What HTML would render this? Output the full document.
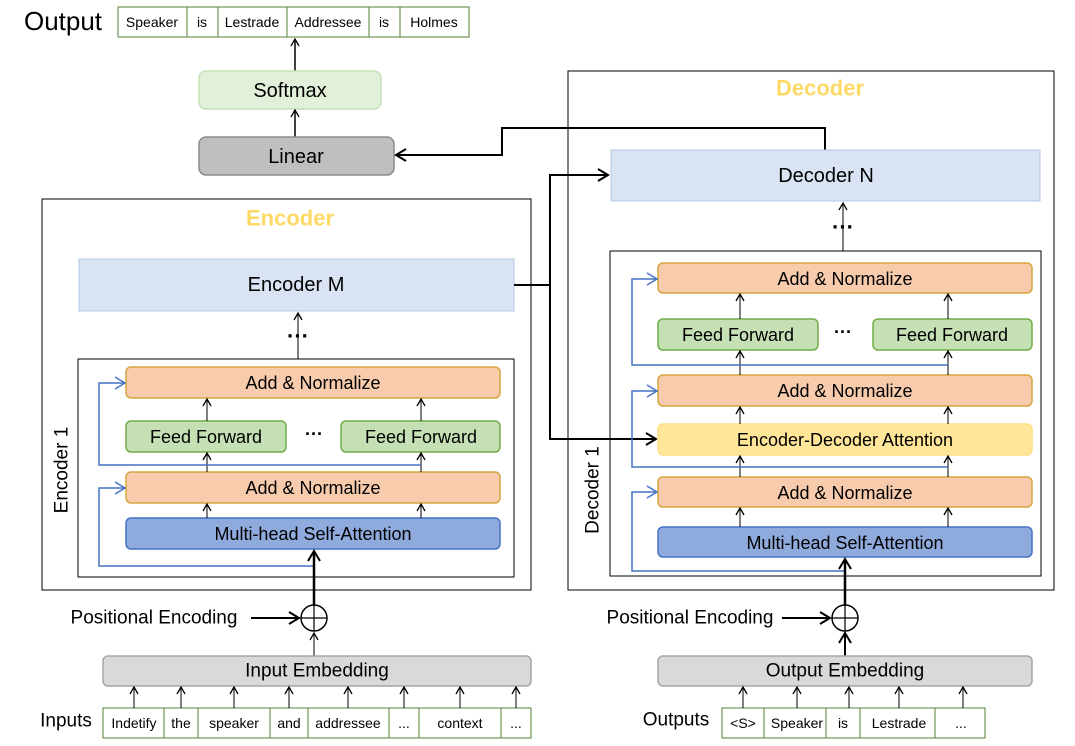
<!DOCTYPE html>
<html><head><meta charset="utf-8"><style>
html,body{margin:0;padding:0;background:#fff;}
svg{display:block;font-family:"Liberation Sans",sans-serif;}
</style></head><body>
<svg width="1075" height="746" viewBox="0 0 1075 746" xmlns="http://www.w3.org/2000/svg">
<defs>
<marker id="a" markerWidth="10" markerHeight="10" refX="8" refY="5" orient="auto" markerUnits="userSpaceOnUse"><path d="M1,1 L8,5 L1,9" fill="none" stroke="#000" stroke-width="1.3"/></marker>
<marker id="ab" markerWidth="14" markerHeight="14" refX="11" refY="7" orient="auto" markerUnits="userSpaceOnUse"><path d="M1,1 L11,7 L1,13" fill="none" stroke="#000" stroke-width="2"/></marker>
<marker id="b" markerWidth="14" markerHeight="14" refX="11" refY="7" orient="auto" markerUnits="userSpaceOnUse"><path d="M1,1 L11,7 L1,13" fill="none" stroke="#4472c4" stroke-width="1.5"/></marker>
</defs>
<g text-anchor="middle" dominant-baseline="central">
<!-- Output -->
<text x="63" y="21" font-size="26" fill="#000">Output</text>
<rect x="118" y="7" width="351" height="30" fill="#fff" stroke="#548235"/>
<g stroke="#548235"><line x1="187" y1="7" x2="187" y2="37"/><line x1="218" y1="7" x2="218" y2="37"/><line x1="287" y1="7" x2="287" y2="37"/><line x1="369" y1="7" x2="369" y2="37"/><line x1="400" y1="7" x2="400" y2="37"/></g>
<g font-size="14"><text x="152" y="22">Speaker</text><text x="202" y="22">is</text><text x="252" y="22">Lestrade</text><text x="328" y="22">Addressee</text><text x="384" y="22">is</text><text x="434" y="22">Holmes</text></g>
<line x1="295" y1="72" x2="295" y2="39" stroke="#000" stroke-width="1.5" marker-end="url(#a)"/>
<rect x="199" y="71" width="182" height="38" rx="7" fill="#e2f0d9" stroke="#c5e0b4" stroke-width="1.5"/>
<text x="290" y="91" font-size="20">Softmax</text>
<line x1="295" y1="137" x2="295" y2="110" stroke="#000" stroke-width="1.5" marker-end="url(#a)"/>
<rect x="199" y="137" width="195" height="38" rx="7" fill="#bfbfbf" stroke="#8c8c8c" stroke-width="1.5"/>
<text x="296" y="157" font-size="20">Linear</text>
<polyline points="825,150 825,128 502,128 502,155 396,155" fill="none" stroke="#000" stroke-width="2" marker-end="url(#ab)"/>

<!-- Encoder -->
<rect x="42" y="199" width="489" height="391" fill="none" stroke="#000"/>
<text x="290" y="218" font-size="22" font-weight="bold" fill="#ffd966">Encoder</text>
<rect x="79" y="259" width="435" height="52" fill="#dae3f3" stroke="#b4c7e7"/>
<text x="296" y="285" font-size="20">Encoder  M</text>
<text x="298" y="336" font-size="22" font-weight="bold">···</text>
<line x1="298" y1="359" x2="298" y2="313" stroke="#000" stroke-width="1" marker-end="url(#a)"/>
<rect x="78" y="359" width="436" height="218" fill="none" stroke="#000"/>
<text transform="translate(62,470) rotate(-90)" font-size="19">Encoder 1</text>
<rect x="126" y="367" width="374" height="31" rx="5" fill="#f8cbad" stroke="#d6a540" stroke-width="1.5"/>
<text x="313" y="383" font-size="18">Add &amp; Normalize</text>
<rect x="126" y="421" width="160" height="31" rx="5" fill="#c5e0b4" stroke="#70ad47" stroke-width="1.5"/>
<text x="206" y="437" font-size="18">Feed Forward</text>
<rect x="341" y="421" width="159" height="31" rx="5" fill="#c5e0b4" stroke="#70ad47" stroke-width="1.5"/>
<text x="421" y="437" font-size="18">Feed Forward</text>
<text x="314" y="434" font-size="18" font-weight="bold">···</text>
<rect x="126" y="472" width="374" height="31" rx="5" fill="#f8cbad" stroke="#d6a540" stroke-width="1.5"/>
<text x="313" y="488" font-size="18">Add &amp; Normalize</text>
<rect x="126" y="518" width="374" height="31" rx="5" fill="#8faadc" stroke="#4472c4" stroke-width="1.5"/>
<text x="313" y="534" font-size="18">Multi-head Self-Attention</text>
<g stroke="#000" stroke-width="1" marker-end="url(#a)">
<line x1="207" y1="421" x2="207" y2="399"/><line x1="421" y1="421" x2="421" y2="399"/>
<line x1="207" y1="472" x2="207" y2="453"/><line x1="421" y1="472" x2="421" y2="453"/>
<line x1="207" y1="518" x2="207" y2="504"/><line x1="421" y1="518" x2="421" y2="504"/>
</g>
<g stroke="#4472c4" stroke-width="1.5" fill="none" marker-end="url(#b)">
<polyline points="315,566 99,566 99,488 125,488"/>
<polyline points="421,465 99,465 99,383 125,383"/>
</g>
<line x1="314" y1="605" x2="314" y2="551" stroke="#000" stroke-width="2.5" marker-end="url(#ab)"/>
<text x="154" y="618" font-size="19">Positional Encoding</text>
<line x1="251" y1="618" x2="299" y2="618" stroke="#000" stroke-width="2" marker-end="url(#ab)"/>
<circle cx="314" cy="618" r="13" fill="#fff" stroke="#000" stroke-width="1.5"/>
<line x1="301" y1="618" x2="327" y2="618" stroke="#000" stroke-width="1.2"/><line x1="314" y1="605" x2="314" y2="631" stroke="#000" stroke-width="1.2"/>
<line x1="314" y1="656" x2="314" y2="633" stroke="#000" stroke-width="1" marker-end="url(#a)"/>
<rect x="103" y="656" width="428" height="30" rx="5" fill="#d9d9d9" stroke="#a6a6a6" stroke-width="1.5"/>
<text x="317" y="671" font-size="19">Input Embedding</text>
<text x="66" y="721" font-size="19">Inputs</text>
<rect x="103" y="708" width="428" height="30" fill="#fff" stroke="#548235"/>
<g stroke="#548235"><line x1="164" y1="708" x2="164" y2="738"/><line x1="198" y1="708" x2="198" y2="738"/><line x1="270" y1="708" x2="270" y2="738"/><line x1="308" y1="708" x2="308" y2="738"/><line x1="389" y1="708" x2="389" y2="738"/><line x1="419" y1="708" x2="419" y2="738"/><line x1="501" y1="708" x2="501" y2="738"/></g>
<g font-size="14"><text x="134" y="723">Indetify</text><text x="181" y="723">the</text><text x="234" y="723">speaker</text><text x="289" y="723">and</text><text x="348" y="723">addressee</text><text x="404" y="723">...</text><text x="460" y="723">context</text><text x="516" y="723">...</text></g>
<g stroke="#000" stroke-width="1" marker-end="url(#a)">
<line x1="134" y1="708" x2="134" y2="687"/><line x1="181" y1="708" x2="181" y2="687"/><line x1="234" y1="708" x2="234" y2="687"/><line x1="289" y1="708" x2="289" y2="687"/><line x1="348" y1="708" x2="348" y2="687"/><line x1="404" y1="708" x2="404" y2="687"/><line x1="460" y1="708" x2="460" y2="687"/><line x1="516" y1="708" x2="516" y2="687"/>
</g>

<!-- Decoder -->
<rect x="568" y="71" width="486" height="519" fill="none" stroke="#000"/>
<text x="820" y="88" font-size="22" font-weight="bold" fill="#ffd966">Decoder</text>
<rect x="611" y="150" width="429" height="51" fill="#dae3f3" stroke="#b4c7e7"/>
<text x="826" y="176" font-size="20">Decoder  N</text>
<polyline points="514,285 550,285 550,175 608,175" fill="none" stroke="#000" stroke-width="2" marker-end="url(#ab)"/>
<polyline points="550,285 550,439 656,439" fill="none" stroke="#000" stroke-width="2" marker-end="url(#ab)"/>
<text x="843" y="227" font-size="22" font-weight="bold">···</text>
<line x1="843" y1="251" x2="843" y2="203" stroke="#000" stroke-width="1" marker-end="url(#a)"/>
<rect x="610" y="251" width="431" height="325" fill="none" stroke="#000"/>
<text transform="translate(593,490) rotate(-90)" font-size="19">Decoder 1</text>
<rect x="658" y="263" width="374" height="30" rx="5" fill="#f8cbad" stroke="#d6a540" stroke-width="1.5"/>
<text x="845" y="279" font-size="18">Add &amp; Normalize</text>
<rect x="658" y="319" width="160" height="31" rx="5" fill="#c5e0b4" stroke="#70ad47" stroke-width="1.5"/>
<text x="738" y="335" font-size="18">Feed Forward</text>
<rect x="873" y="319" width="159" height="31" rx="5" fill="#c5e0b4" stroke="#70ad47" stroke-width="1.5"/>
<text x="952" y="335" font-size="18">Feed Forward</text>
<text x="843" y="332" font-size="18" font-weight="bold">···</text>
<rect x="658" y="375" width="374" height="31" rx="5" fill="#f8cbad" stroke="#d6a540" stroke-width="1.5"/>
<text x="845" y="391" font-size="18">Add &amp; Normalize</text>
<rect x="658" y="424" width="374" height="31" rx="5" fill="#ffe699" stroke="#ffe08a" stroke-width="1.5"/>
<text x="845" y="440" font-size="18">Encoder-Decoder Attention</text>
<rect x="658" y="477" width="374" height="30" rx="5" fill="#f8cbad" stroke="#d6a540" stroke-width="1.5"/>
<text x="845" y="493" font-size="18">Add &amp; Normalize</text>
<rect x="658" y="527" width="374" height="30" rx="5" fill="#8faadc" stroke="#4472c4" stroke-width="1.5"/>
<text x="845" y="543" font-size="18">Multi-head Self-Attention</text>
<g stroke="#000" stroke-width="1" marker-end="url(#a)">
<line x1="740" y1="319" x2="740" y2="294"/><line x1="948" y1="319" x2="948" y2="294"/>
<line x1="740" y1="375" x2="740" y2="351"/><line x1="948" y1="375" x2="948" y2="351"/>
<line x1="740" y1="424" x2="740" y2="407"/><line x1="948" y1="424" x2="948" y2="407"/>
<line x1="740" y1="477" x2="740" y2="456"/><line x1="948" y1="477" x2="948" y2="456"/>
<line x1="740" y1="527" x2="740" y2="508"/><line x1="948" y1="527" x2="948" y2="508"/>
</g>
<g stroke="#4472c4" stroke-width="1.5" fill="none" marker-end="url(#b)">
<polyline points="845,571 632,571 632,492 657,492"/>
<polyline points="948,467 632,467 632,391 657,391"/>
<polyline points="948,365 632,365 632,279 657,279"/>
</g>
<line x1="845" y1="605" x2="845" y2="559" stroke="#000" stroke-width="2.5" marker-end="url(#ab)"/>
<text x="690" y="618" font-size="19">Positional Encoding</text>
<line x1="782" y1="618" x2="830" y2="618" stroke="#000" stroke-width="2" marker-end="url(#ab)"/>
<circle cx="845" cy="618" r="13" fill="#fff" stroke="#000" stroke-width="1.5"/>
<line x1="832" y1="618" x2="858" y2="618" stroke="#000" stroke-width="1.2"/><line x1="845" y1="605" x2="845" y2="631" stroke="#000" stroke-width="1.2"/>
<line x1="845" y1="656" x2="845" y2="633" stroke="#000" stroke-width="2" marker-end="url(#ab)"/>
<rect x="658" y="656" width="374" height="30" rx="5" fill="#d9d9d9" stroke="#a6a6a6" stroke-width="1.5"/>
<text x="845" y="671" font-size="19">Output Embedding</text>
<text x="676" y="720" font-size="19">Outputs</text>
<rect x="722" y="708" width="263" height="30" fill="#fff" stroke="#548235"/>
<g stroke="#548235"><line x1="764" y1="708" x2="764" y2="738"/><line x1="826" y1="708" x2="826" y2="738"/><line x1="860" y1="708" x2="860" y2="738"/><line x1="935" y1="708" x2="935" y2="738"/></g>
<g font-size="14"><text x="743" y="723">&lt;S&gt;</text><text x="797" y="723">Speaker</text><text x="843" y="723">is</text><text x="899" y="723">Lestrade</text><text x="961" y="723">...</text></g>
<g stroke="#000" stroke-width="1" marker-end="url(#a)">
<line x1="743" y1="708" x2="743" y2="687"/><line x1="797" y1="708" x2="797" y2="687"/><line x1="849" y1="708" x2="849" y2="687"/><line x1="899" y1="708" x2="899" y2="687"/><line x1="963" y1="708" x2="963" y2="687"/>
</g>
</g>
</svg>
</body></html>
